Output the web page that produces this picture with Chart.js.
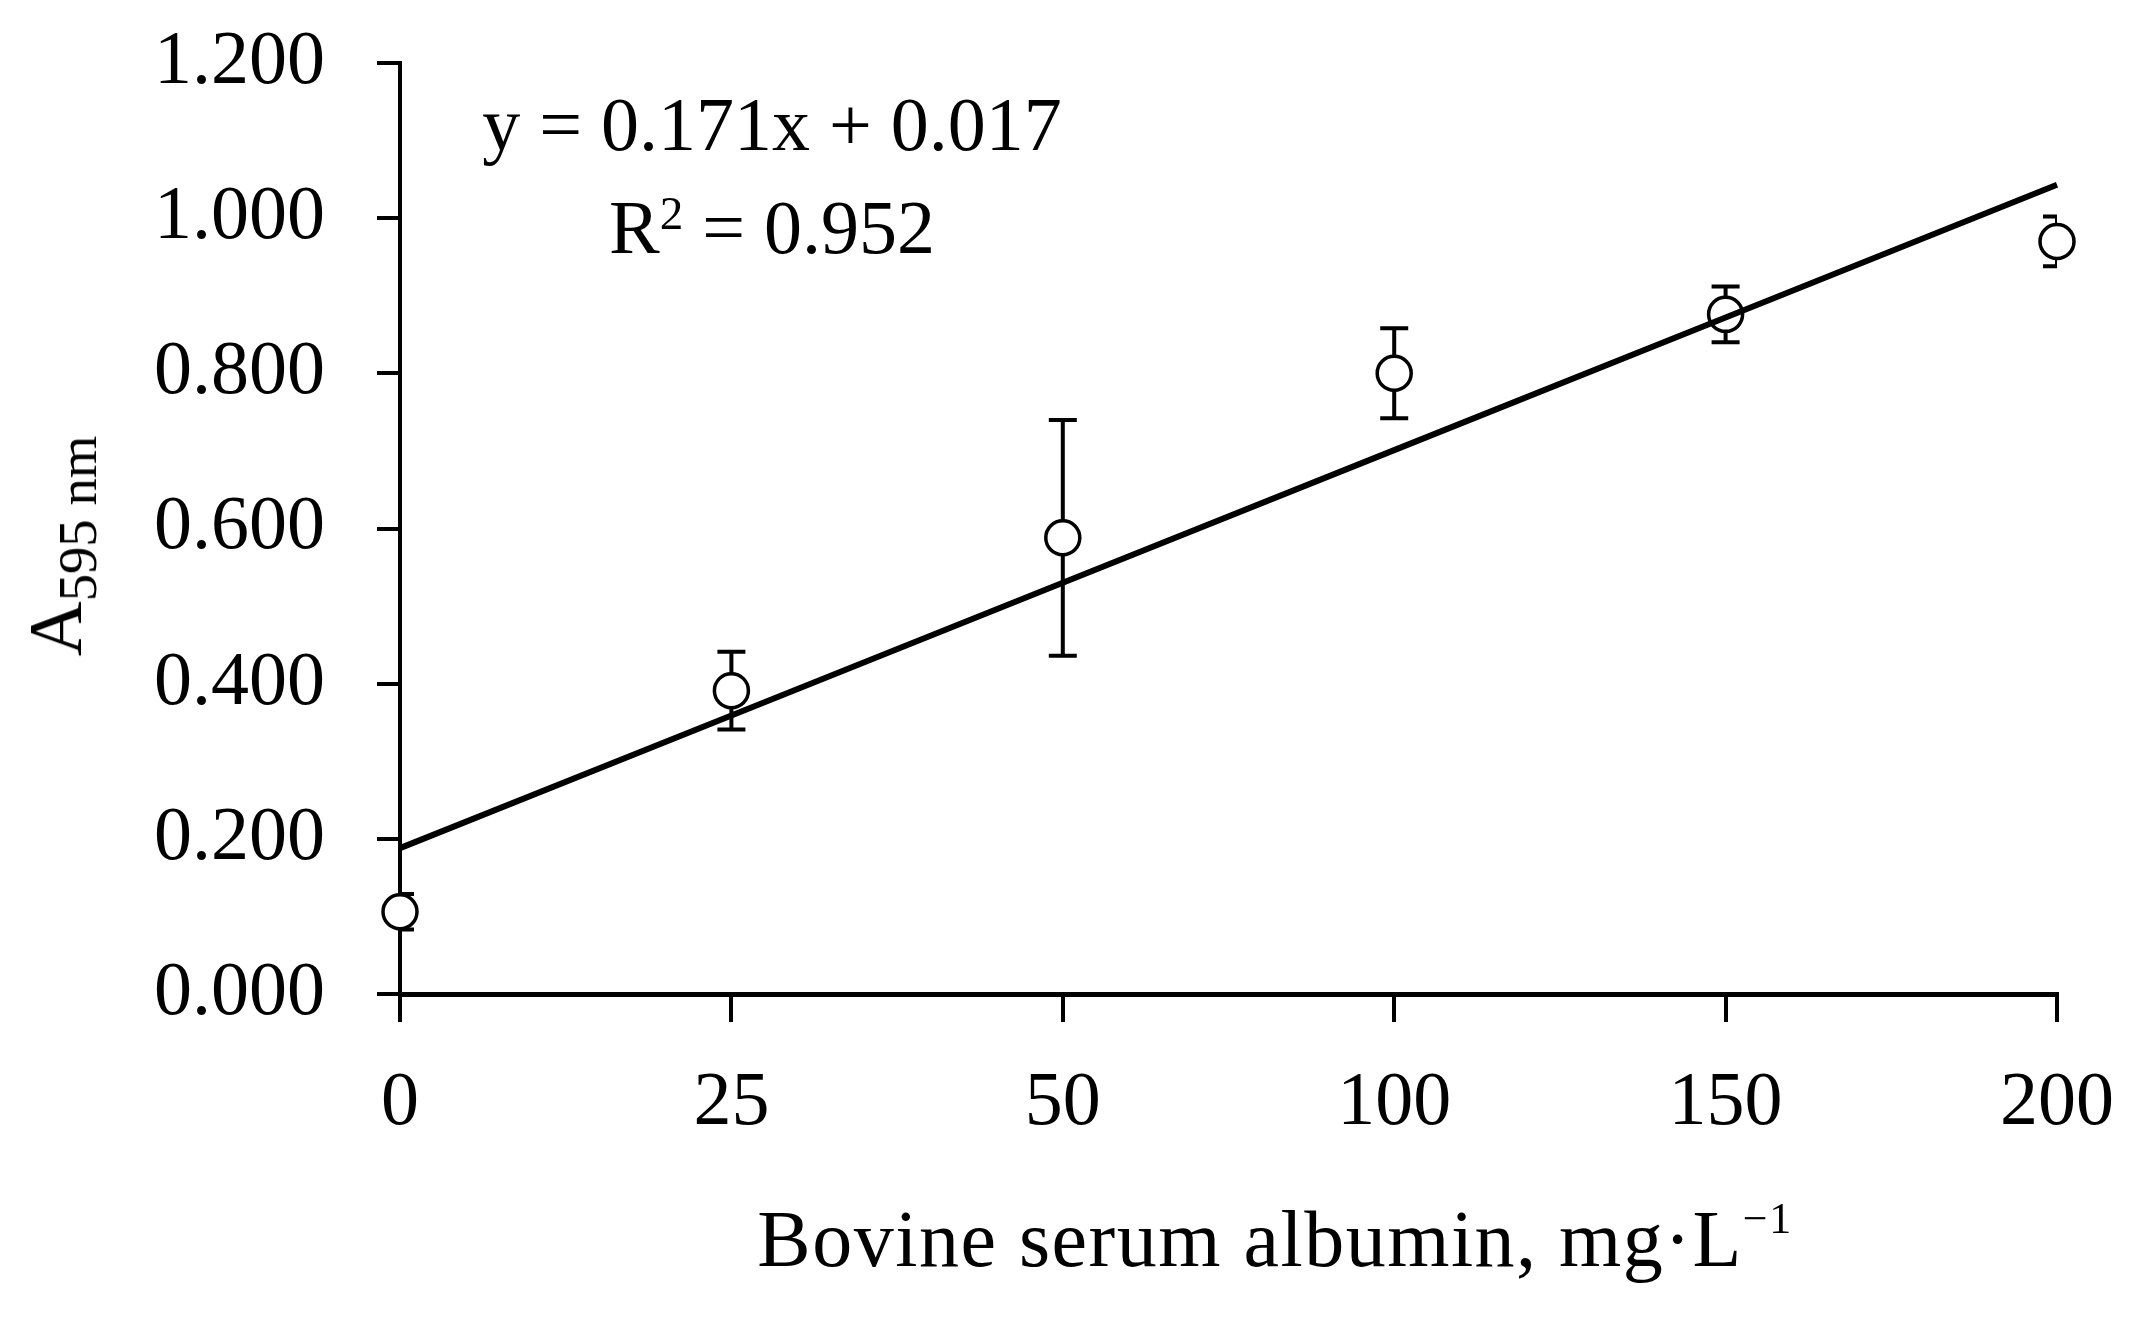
<!DOCTYPE html>
<html>
<head>
<meta charset="utf-8">
<script src="https://cdn.jsdelivr.net/npm/chart.js@4.4.0/dist/chart.umd.min.js"></script>
<style>
body { margin: 0; background: #fff; }
#wrap { position: relative; width: 2145px; height: 1322px; }
.lbl { position: absolute; font-family: "Liberation Serif", serif; font-size: 76px; color: #000; white-space: nowrap; }
#eq { left: 772px; top: 73px; line-height: 103px; text-align: center; transform: translateX(-50%); }
#eq sup { font-size: 0.62em; line-height: 0; vertical-align: 0.5em; }
#xtitle { left: 1275px; top: 1199px; font-size: 80px; letter-spacing: 1.5px; line-height: 80px; transform: translateX(-50%); }
#xtitle sup { font-size: 0.55em; line-height: 0; vertical-align: 0.75em; }
#ytitle { left: 55px; top: 546px; line-height: 76px; transform: translate(-50%, -50%) rotate(-90deg); }
#ytitle sub { font-size: 0.72em; line-height: 0; vertical-align: -0.28em; }
</style>
</head>
<body>
<div id="wrap">
  <canvas id="myCanvas" width="2145" height="1322"></canvas>
  <div class="lbl" id="eq">y = 0.171x + 0.017<br>R<sup>2</sup> = 0.952</div>
  <div class="lbl" id="xtitle">Bovine serum albumin, mg·L<sup>−1</sup></div>
  <div class="lbl" id="ytitle">A<sub>595 nm</sub></div>
</div>
<script>
'use strict';

// BSA concentration (mg/L), plotted as equally spaced categories
var concLabels = ['0', '25', '50', '100', '150', '200'];
// mean absorbance at 595 nm
var meanValues = [0.106, 0.391, 0.588, 0.800, 0.876, 0.970];
// standard deviation
var errValues = [0.023, 0.050, 0.152, 0.058, 0.036, 0.032];
// linear trend as printed on the chart (x = point number 1..6)
var slope = 0.171;
var intercept = 0.017;
var trendValues = concLabels.map(function (c, i) { return slope * (i + 1) + intercept; });

var fontFamily = "'Liberation Serif', serif";

var errorBars = {
    id: 'errorBars',
    beforeDatasetsDraw: function (chart) {
        var ctx = chart.ctx;
        var xs = chart.scales.x, ys = chart.scales.y;
        var area = chart.chartArea;
        ctx.save();
        ctx.beginPath();
        ctx.rect(area.left, 0, area.right - area.left, chart.height);
        ctx.clip();
        ctx.strokeStyle = '#000';
        ctx.lineWidth = 4;
        meanValues.forEach(function (v, i) {
            var px = xs.getPixelForValue(i);
            var top = ys.getPixelForValue(v + errValues[i]);
            var bot = ys.getPixelForValue(v - errValues[i]);
            ctx.beginPath();
            ctx.moveTo(px, top); ctx.lineTo(px, bot);
            ctx.moveTo(px - 14, top); ctx.lineTo(px + 14, top);
            ctx.moveTo(px - 14, bot); ctx.lineTo(px + 14, bot);
            ctx.stroke();
        });
        ctx.restore();
    }
};

var ctx = document.getElementById('myCanvas').getContext('2d');
var myChart = new Chart(ctx, {
    type: 'line',
    data: {
        labels: concLabels,
        datasets: [
            {
                label: 'Linear trend',
                data: trendValues,
                borderColor: '#000',
                borderWidth: 6,
                pointRadius: 0,
                fill: false,
                tension: 0,
                clip: false
            },
            {
                label: 'A595',
                data: meanValues,
                showLine: false,
                pointRadius: 17,
                pointBorderWidth: 3.5,
                pointBackgroundColor: '#fff',
                pointBorderColor: '#000',
                clip: false
            }
        ]
    },
    options: {
        responsive: false,
        animation: false,
        layout: { padding: { left: 0, right: 88, top: 63, bottom: 0 } },
        plugins: {
            legend: { display: false },
            tooltip: { enabled: false }
        },
        scales: {
            x: {
                type: 'category',
                offset: false,
                grid: { drawOnChartArea: false, drawTicks: true, tickLength: 28, color: '#000', lineWidth: 4 },
                border: { display: true, color: '#000', width: 5 },
                ticks: {
                    color: '#000',
                    font: { family: fontFamily, size: 76 },
                    padding: 36,
                    maxRotation: 0,
                    autoSkip: false
                },
                afterFit: function (s) {
                    s.height = 328;
                    s.paddingLeft = 0;
                    s.paddingRight = 0;
                }
            },
            y: {
                min: 0,
                max: 1.2,
                grid: { drawOnChartArea: false, drawTicks: true, tickLength: 23, color: '#000', lineWidth: 4 },
                border: { display: true, color: '#000', width: 4 },
                ticks: {
                    stepSize: 0.2,
                    color: '#000',
                    font: { family: fontFamily, size: 76 },
                    padding: 52,
                    callback: function (v) { return Number(v).toFixed(3); }
                },
                afterFit: function (s) {
                    s.width = 400;
                    s.paddingTop = 0;
                    s.paddingBottom = 0;
                }
            }
        }
    },
    plugins: [errorBars]
});
</script>
</body>
</html>
